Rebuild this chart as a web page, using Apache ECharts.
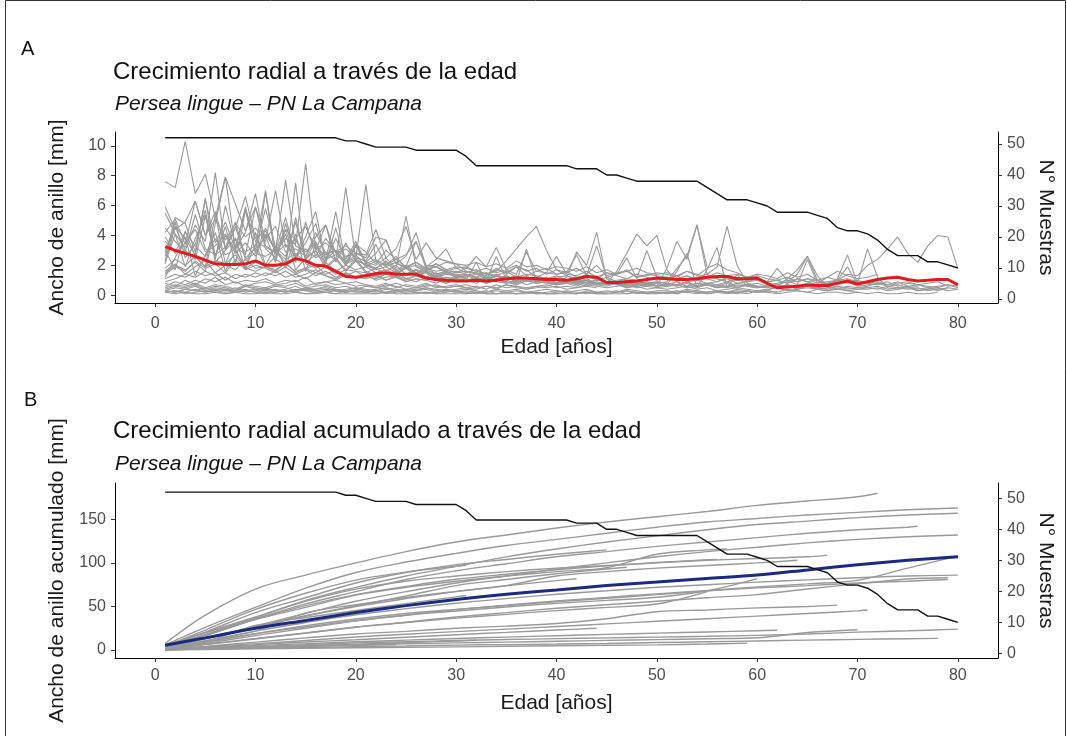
<!DOCTYPE html>
<html lang="es">
<head>
    <meta charset="UTF-8">
    <title>Crecimiento radial - Persea lingue</title>
    <script src="https://cdn.jsdelivr.net/npm/echarts@6/dist/echarts.min.js"></script>
    <style>
        html, body { margin: 0; padding: 0; background: #fff; }
        #main { width: 1067px; height: 736px; }
    </style>
</head>
<body>
<div id="main"></div>

<script type="text/javascript">
    // ticks
    var ticksEdad = [0, 10, 20, 30, 40, 50, 60, 70, 80];
    var ticksAncho = [0, 2, 4, 6, 8, 10];
    var ticksAcum = [0, 50, 100, 150];
    var ticksMuestras = [0, 10, 20, 30, 40, 50];

    // N° de muestras por edad (1..80)
    var muestras = [52,52,52,52,52,52,52,52,52,52, 52,52,52,52,52,52,52,52,51,51,
        50,49,49,49,49,48,48,48,48,48, 46,43,43,43,43,43,43,43,43,43,
        43,42,42,42,40,40,39,38,38,38, 38,38,38,38,36,34,32,32,32,31,
        30,28,28,28,28,27,26,23,22,22, 21,19,16,14,14,14,12,12,11,10];

    // media del ancho de anillo (linea roja), edad 1..80
    var mediaAncho = [3.25,3.0,2.8,2.6,2.35,2.1,2.05,2.05,2.1,2.3, 2.0,2.0,2.1,2.45,2.3,2.0,1.95,1.6,1.25,1.2,
        1.3,1.45,1.5,1.4,1.4,1.4,1.15,1.05,1.0,0.95, 0.95,1.0,0.95,1.0,1.1,1.15,1.15,1.1,1.05,1.05,
        1.0,1.1,1.25,1.2,0.85,0.85,0.9,0.95,1.05,1.15, 1.1,1.05,1.05,1.1,1.2,1.25,1.25,1.1,1.1,1.15,
        0.8,0.5,0.55,0.6,0.7,0.65,0.65,0.8,0.95,0.75, 0.9,1.05,1.15,1.2,1.05,0.95,1.0,1.05,1.05,0.7];

    // edades usadas para el acumulado (mas la edad final de cada muestra)
    var edadesAcum = [1, 5, 10, 15, 20, 25, 30, 35, 40, 45, 50, 55, 60, 65, 70, 75, 80];
    // media del acumulado (linea azul)
    var mediaAcum = [5.5, 14, 25, 34, 43, 51, 58, 64, 69, 74, 78, 82, 86, 92, 98, 103, 107];

    // ancho de anillo por muestra (mm), desde edad 1
    var m01 = [7.6,7.2,10.3,6.8,8.1,5.2,7.9,6.1,4.3,5.9, 3.8,4.6,2.9,3.1,2.6,4.2,2.8,3.0,2.2,3.4,
        2.9,2.1,3.0,2.4,2.7,3.6,2.0,1.9,2.2,2.1, 1.6,1.5,1.3,1.8,1.4,1.9,1.7,1.2,1.5,1.4,
        1.6,1.2,1.3,1.1,1.5,1.4,1.7,1.2,1.3,1.5, 1.4,1.2,1.6,1.3,1.8,2.1,1.7,1.5,1.2,1.4,
        1.3,1.1,1.5,1.2,1.4,1.0,1.2,1.6,1.3,1.1,1.2,1.4];
    var m02 = [5.9,4.4,4.9,6.3,4.0,5.1,3.7,4.8,3.9,4.5, 3.6,7.0,3.2,3.8,4.6,3.1,3.5,2.9,3.3,2.8,
        2.5,3.9,3.7,2.1,2.6,4.2,1.9,2.4,3.1,1.8, 1.9,1.6,1.8,1.5,1.7,2.0,1.6,1.8,1.4,1.7,
        1.5,1.8,1.4,2.0,1.3,1.5,1.6,1.2,1.4,1.3, 1.2,1.1,1.3,1.0,1.2,1.1,0.9,1.0,1.2,1.0,
        0.9,1.8,1.0,0.7,2.4,0.8,0.9,1.0,1.9,0.7, 0.6,0.8,0.7,0.9,0.6,0.7,0.5,0.6,0.7,0.5];
    var m03 = [3.9,2.8,3.5,4.4,2.9,3.3,4.1,3.0,5.8,3.6, 3.2,2.9,3.8,3.4,8.8,3.1,2.7,3.0,2.6,2.8,
        2.7,4.4,2.5,3.1,4.6,2.4,3.5,2.5,2.3,2.1, 2.0,2.2,1.9,2.1,1.8,2.3,1.9,2.0,1.7,1.9,
        1.8,1.6,1.9,1.5,1.7,1.4,1.6,1.8,1.5,1.4, 1.5,1.3,1.6,1.4,1.2,1.5,1.3,1.4,1.2,1.3,
        1.1,1.0,1.2,0.9,1.1,1.0,0.8,1.0,1.1,0.9, 0.8,0.7,0.9,0.6,0.8,0.7,0.6,0.5,0.7,0.6];
    var m04 = [4.5,3.6,2.9,5.4,3.1,2.7,4.0,2.8,3.5,2.6, 4.1,3.0,7.7,3.3,2.9,3.5,2.4,2.7,2.2,2.5,
        7.4,2.3,2.0,2.4,1.9,2.2,1.8,2.1,1.7,1.9, 1.8,2.6,1.9,3.2,1.7,1.4,2.9,1.6,1.5,2.6,
        1.4,1.3,1.6,1.2,1.5,1.3,1.1,1.4,1.2,1.0, 1.2,1.1,1.3,1.0,1.1,0.9,1.2,1.0,0.9,1.1,
        0.9,1.0,0.8,1.1,0.9,0.7,0.8,1.0,0.9,0.6, 0.7,0.8,0.6,0.7,0.5,0.6];
    var m05 = [2.2,4.1,1.9,3.8,5.4,2.6,4.6,2.1,5.7,2.9, 4.0,2.2,4.8,2.5,3.9,5.6,2.3,3.8,2.4,3.6,
        2.2,2.0,2.5,1.8,5.3,1.9,1.6,2.1,1.7,1.5, 1.8,1.6,1.4,1.7,1.5,1.9,1.3,1.6,1.8,1.4,
        1.5,2.7,1.3,3.3,1.2,1.4,2.5,1.1,3.0,1.2, 1.1,1.3,1.0,1.2,1.4,1.1,0.9,1.2,1.0,1.1,
        0.9,1.0,0.8,1.1,0.9,1.0,0.7,0.9,0.8,1.0, 0.8,0.9,0.7,0.8,0.9,0.7,0.8,0.9,0.6,0.7];
    var m06 = [1.6,2.1,1.4,1.9,2.3,1.5,2.0,1.7,2.4,1.8, 1.9,1.6,2.2,1.5,1.8,2.0,1.4,1.7,1.3,1.6,
        1.2,1.4,1.0,1.3,1.1,0.9,1.2,1.0,0.8,1.1, 0.9,1.0,0.8,1.1,0.9,0.7,1.0,0.8,0.9,0.7,
        0.8,0.9,1.0,0.7,0.8,0.9,0.6,0.8,0.7,0.9, 0.8,0.7,0.9,1.0,0.8,0.9,1.1,0.8,0.9,1.0,
        0.7,0.8,1.0,0.9,1.1,0.8,1.2,1.0,1.4,1.3, 2.0,2.4,3.1,3.9,2.8,2.2,3.3,4.0,3.9,1.8];
    var m07 = [3.0,1.7,4.3,2.6,1.9,5.4,2.1,3.8,1.8,4.2, 2.0,3.3,1.8,4.1,1.6,3.4,1.9,2.5,1.7,2.4,
        1.6,1.3,1.5,1.2,1.4,1.7,1.1,1.3,1.0,1.2, 1.1,0.9,1.2,1.0,1.3,0.8,1.1,1.0,0.9,1.0,
        0.9,0.8,1.0,0.7,0.9,0.8,0.7,0.9,0.8,0.6, 0.7,1.6,2.8,0.5,1.7,3.2,0.5,1.4,0.6,0.5,
        0.6,0.5,0.7,0.4,0.6,0.5,0.4,0.6,0.5,0.4, 0.5,0.6,0.4,0.5,0.6,0.4,0.5,0.3,0.5,0.4];
    var m08 = [1.2,2.5,3.9,1.3,2.7,4.2,1.6,3.0,1.8,3.4, 1.9,2.6,4.1,1.7,2.5,3.0,1.8,2.4,1.6,2.3,
        1.5,1.2,1.4,1.6,1.1,1.3,1.5,1.0,1.2,1.1, 1.0,2.2,0.9,2.6,1.0,0.8,3.1,0.9,1.2,0.8,
        0.9,0.7,1.0,0.8,0.9,0.7,0.8,0.9,0.6,0.8, 0.7,0.9,0.6,0.8,0.7,0.6,0.8,0.5,0.7,0.6,
        0.6,0.7,0.5,0.6,0.7,0.5,0.6,0.4,0.6,0.5, 0.5,0.4,0.6,0.5,0.4,0.5,0.3,0.4,0.5];
    var m09 = [0.9,1.1,1.4,1.2,1.6,1.3,1.5,1.1,1.4,1.2, 1.5,1.3,1.6,1.2,1.4,1.7,1.3,1.1,1.5,1.2,
        1.3,1.1,1.4,1.2,1.0,1.3,1.1,1.2,0.9,1.1, 1.0,1.2,0.9,1.1,0.8,1.0,1.1,0.9,1.0,0.8,
        0.9,0.8,1.0,0.7,0.9,0.8,0.7,0.9,0.8,0.6, 0.8,0.7,0.9,0.6,0.8,0.7,0.9,0.6,0.7,0.8,
        0.6,0.7,0.9,1.4,2.6,1.0,0.5,1.1,2.7,0.8, 3.1,1.2,0.5,0.4,0.5,0.3,0.4,0.5,0.3];
    var m10 = [5.5,4.1,3.2,4.7,3.6,8.2,3.0,3.8,2.9,3.3, 7.0,2.8,3.4,2.6,3.1,2.5,2.9,2.3,7.2,2.4,
        2.0,1.8,2.2,1.6,1.9,1.5,1.7,1.4,1.6,1.3, 1.4,1.2,1.0,1.3,1.1,1.0,1.2,0.9,1.1,1.0,
        0.9,1.0,0.8,0.7,0.9,0.8,1.0,0.7,0.8,0.6, 0.7,0.6,0.8,0.5,0.7,0.6,0.5,0.7,0.6,0.5,
        0.6,0.5,0.7,0.4,0.6,0.5,0.4];
    var m11 = [2.1,4.6,3.0,2.4,5.3,2.7,3.2,4.9,2.5,3.1, 5.8,3.2,2.6,4.9,2.4,3.0,4.7,2.2,3.5,2.3,
        2.1,2.4,1.9,2.2,1.8,2.0,1.7,1.9,1.6,1.8, 1.5,1.7,1.4,1.6,2.3,3.1,3.9,4.6,3.0,1.7,
        1.3,1.1,1.4,1.0,1.2,0.9,1.1,1.0,0.8,0.9, 0.8,0.7,0.9,0.6,0.8,0.7,0.6,0.8,0.7,0.5,
        0.6,0.5,0.7,0.6];
    var m12 = [0.6,0.9,0.7,1.0,0.8,1.2,0.7,0.9,0.6,0.8, 0.9,0.7,0.8,1.0,0.6,0.8,0.9,0.7,0.8,0.6,
        0.7,0.5,0.6,0.8,0.6,0.5,0.7,0.6,0.5,0.6, 0.7,0.5,0.6,0.4,0.7,0.6,0.5,0.6,0.7,0.5,
        0.6,0.5,0.7,0.6,0.5,0.6,0.7,0.5,0.6,0.5, 0.6,0.7,0.5,0.6,0.7,0.5,0.6,0.5,0.7,0.6,
        0.5,0.7,0.6,0.5,0.6,0.4,0.5,0.6,0.4,0.5,0.6];
    var m13 = [0.8,0.6,1.0,0.7,1.1,0.9,1.2,0.8,1.0,0.9, 1.1,0.8,1.0,0.9,1.2,0.7,0.9,1.0,0.8,0.9,
        0.7,0.6,0.8,0.5,0.7,0.6,0.8,0.5,0.6,0.7, 0.5,0.6,0.4,0.7,0.5,0.6,0.4,0.5,0.6,0.8,
        1.2,2.9,2.0,4.2,1.1,0.7,0.5,0.6,0.4,0.5, 0.4,0.5,0.6,0.4,0.5,0.3,0.4,0.5,0.4,0.3,
        0.4,0.5,0.3,0.4,0.5,0.4,0.3,0.4];
    var m14 = [0.3,0.5,0.4,0.6,0.3,0.5,0.4,0.3,0.6,0.4, 0.5,0.3,0.4,0.6,0.3,0.4,0.5,0.3,0.4,0.5,
        0.3,0.2,0.4,0.3,0.2,0.3,0.4,0.2,0.3,0.2, 0.3,0.2,0.3,0.1,0.2,0.3,0.2,0.1,0.2,0.3,
        0.2,0.1,0.3,0.2,0.1,0.2,0.3,0.2,0.1,0.2, 0.2,0.1,0.3,0.2,0.1,0.2,0.1,0.2,0.3,0.2,
        0.3,0.2,0.4,0.3,0.2,0.4,0.3,0.5,0.3,0.4, 0.4,0.5,0.3,0.4,0.6,0.3,0.4,0.5,0.3,0.4];
    var m15 = [0.2,0.3,0.1,0.2,0.3,0.2,0.1,0.2,0.3,0.2, 0.1,0.2,0.3,0.2,0.1,0.2,0.2,0.1,0.3,0.2,
        0.2,0.1,0.2,0.3,0.1,0.2,0.2,0.1,0.2,0.3, 0.1,0.2,0.1,0.1,0.2,0.1,0.1,0.2,0.1,0.1,
        0.2,0.1,0.2,0.1,0.1,0.2,0.3,0.1,0.2,0.2, 0.1,0.2,0.2,0.3,0.1,0.2,0.2,0.1,0.3,0.2,
        0.2,0.1,0.2,0.3,0.2,0.1,0.2,0.2,0.1,0.2, 0.1,0.2,0.1,0.1,0.2,0.1,0.1,0.2];
    var m16 = [0.3,0.2,0.4,0.3,0.2,0.4,0.3,0.5,0.2,0.3, 0.4,0.3,0.2,0.4,0.3,0.2,0.3,0.4,0.2,0.3,
        0.2,0.3,0.1,0.2,0.3,0.2,0.1,0.2,0.3,0.2, 0.2,0.1,0.2,0.3,0.2,0.1,0.2,0.2,0.1,0.2,
        0.3,0.2,0.1,0.2,0.2,0.3,0.1,0.2,0.2,0.1, 0.2,0.3,0.2,0.1,0.2,0.3,0.2,0.2,0.1,0.3,
        0.3,0.6,1.1,1.7,2.6,1.3,0.6,0.4,0.3,0.2];
    var m17 = [0.2,0.1,0.2,0.1,0.1,0.2,0.1,0.2,0.1,0.1, 0.2,0.1,0.1,0.2,0.1,0.1,0.2,0.1,0.1,0.1,
        0.1,0.1,0.2,0.1,0.1,0.1,0.2,0.1,0.1,0.1, 0.1,0.2,0.1,0.1,0.1,0.1,0.2,0.1,0.1,0.1,
        0.1,0.1,0.2,0.1,0.1,0.1,0.1,0.2,0.1,0.1, 0.2,0.1,0.3,0.2,0.2,0.3,0.2,0.3,0.2];
    var m18 = [1.4,1.9,1.6,2.3,1.8,2.1,1.5,2.4,1.7,2.0, 1.8,1.5,1.9,1.4,1.7,1.3,1.6,1.2,1.5,1.1,
        1.4,1.0,1.2,1.3,0.9,1.1,1.0,1.2,0.8,1.0, 0.9,1.1,0.8,1.0,0.9,0.7,1.0,0.8,0.9,0.7,
        0.8,0.6,0.9,0.7,0.6,0.8,0.5,0.7,0.6,0.8, 0.9,1.8,2.6,4.7,1.4,1.9,4.6,2.0,0.8,0.6];
    var m19 = [3.6,2.9,4.2,3.3,2.6,3.8,2.7,3.1,5.9,2.8, 2.6,3.0,2.4,2.8,2.2,2.7,2.3,5.6,2.1,2.4,
        2.0,1.7,1.9,1.5,1.8,1.4,1.6,1.3,1.5,1.2, 1.3,1.1,1.2,1.0,1.3,0.9,1.1,1.0,1.2,0.8,
        1.0,0.9,0.7,1.1,0.8,1.6,2.8,4.1,3.3,4.0, 1.7,0.9,0.6,0.8,0.7,0.5,0.6];
    var m20 = [1.1,1.4,1.2,1.6,1.3,1.5,1.0,1.4,1.2,1.5, 1.3,1.6,1.2,1.4,1.1,1.5,1.3,1.0,1.4,1.2,
        1.1,1.3,1.0,1.2,0.9,1.1,1.0,0.8,1.1,0.9, 1.0,0.8,1.1,0.9,0.8,1.0,0.7,0.9,0.8,0.7,
        0.9,0.8,0.6,0.9,0.7,0.8,0.6,0.7,0.9,0.6, 1.8,3.6,2.4,4.7,1.9];
    var m21 = [2.3,4.9,2.5,3.4,5.7,2.2,3.0,4.6,2.4,2.8, 4.5,2.9,2.2,5.2,2.4,3.6,2.1,4.5,2.0,3.3,
        2.2,2.8,3.7,2.1,1.9,3.6,1.8,1.6,1.7,1.5, 1.6,1.4,1.5,1.3,1.6,1.2,1.4,1.3,1.1,1.2,
        1.3,1.0,1.2,1.1,0.9,1.0,1.1];
    var m22 = [0.5,0.7,0.6,0.8,0.5,0.7,0.6,0.4,0.7,0.6, 0.5,0.7,0.6,0.8,0.5,0.6,0.7,0.5,0.6,0.4,
        0.6,0.5,0.7,0.6,0.4,0.5,0.6,0.7,0.5,0.6, 0.5,0.4,0.6,0.5,0.7,0.5,0.4,0.6,0.5,0.6,
        0.4,0.5,0.6,0.5];
    var m23 = [1.8,2.4,2.0,2.6,1.9,2.3,2.1,2.7,1.8,2.2, 6.9,2.4,2.0,7.5,2.1,1.8,2.2,1.6,2.0,1.7,
        1.9,1.5,1.7,1.4,1.8,1.3,1.6,1.2,1.5,1.4, 1.3,1.5,1.2,1.4,1.1,1.3,1.0,1.2,1.1,1.3,
        1.0,1.2];
    var m24 = [0.3,0.2,0.4,0.3,0.5,0.3,0.4,0.2,0.3,0.4, 0.3,0.4,0.2,0.3,0.5,0.3,0.4,0.3,0.2,0.4,
        0.3,0.4,0.5,0.3,0.4,0.3,0.5,0.4,0.3,0.4,0.5,0.3];
    var m25 = [1.5,2.0,1.7,2.2,1.6,4.8,7.9,3.1,1.8,1.6, 1.9,1.7,2.1,1.6,1.8,1.5,1.9,1.4,1.7,1.6,
        1.5,1.8,1.4,1.6,1.3,1.7,1.5,1.2,1.4,1.3,1.2];
    var m26 = [0.2,0.3,0.2,0.4,0.2,0.3,0.2,0.3,0.4,0.2, 0.3,0.2,0.3,0.2,0.4,0.3,0.2,0.3,0.2,0.3,
        0.2,0.3,0.2,0.3];
    var m27 = [4.2,5.1,3.4,6.3,4.0,5.6,3.1,4.5,6.6,3.8, 4.3,3.0,5.2,2.6,3.5,4.8,2.4,3.0,2.2,2.7,
        1.9,2.3,1.6,2.0,1.4,1.7,1.2,1.5,1.0,1.3,1.1];
    var m28 = [3.0,4.6,3.8,2.7,6.4,3.5,4.9,3.1,4.2,6.8, 3.3,2.9,4.4,3.7,2.6,3.9,4.7,2.8,3.1,2.5,
        2.3,3.4,2.0,2.6,1.8,2.2,1.7,1.9,1.5,1.6, 1.4,1.2,1.5,1.1,1.3,1.0,1.2,0.9,1.1,1.0,
        0.9,1.1,0.8,1.0,0.9];
    var m29 = [2.6,5.2,4.8,2.9,6.5,2.4,6.0,3.3,2.7,5.9, 3.1,2.5,4.4,2.2,4.9,2.6,3.8,2.9,2.0,3.4,
        2.1,1.8,2.3,1.7,2.0,1.5,1.9,1.4,1.6,1.3, 1.2,1.4,1.1,1.3,1.0,1.2,0.9,1.1,1.0,0.8,
        1.0,0.9,1.1,0.8,0.7,0.9,0.8,0.6,0.7,0.8, 0.6,0.7,0.5,0.6,0.7,0.5];
    var m30 = [0.4,0.6,0.5,0.7,0.4,0.6,0.5,0.3,0.6,0.5, 0.4,0.6,0.5,0.3,0.5,0.4,0.6,0.4,0.3,0.5,
        0.4,0.3,0.5,0.4,0.3,0.4,0.5,0.3,0.4,0.3, 0.4,0.3,0.2,0.4,0.3,0.4,0.2,0.3,0.4,0.3,
        0.2,0.3,0.4,0.2,0.3,0.2,0.4,0.3,0.2,0.3, 0.3,0.2,0.4,0.3,0.2,0.3,0.2,0.4,0.3,0.2,0.3,0.2];

    // ancho acumulado por muestra (mm) en edadesAcum, mas la edad final
    var a01 = [7.6,40,70,86,100,113,124,132,140,147,153,159,166,171,176,180];
    var a02 = [5.9,26,49,71,89,101,111,120,127,134,141,147,151,155,158,161,163];
    var a03 = [3.9,18,37,57,72,85,96,107,116,124,131,138,144,148,152,155,157];
    var a04 = [4.5,20,36,53,67,81,91,99,107,113,119,124,129,134,138,141,142];
    var a05 = [2.2,13,27.5,42,56,67,77,85,93,100,107,113,118,123,127,130,132];
    var a06 = [1.6,9.3,18.7,28,35.7,42,46.7,51,55.5,59.5,63.6,68,72.5,76,80,94,108];
    var a07 = [2,10.5,21.8,31.5,40.5,47.5,53.8,59,64,68,72,75,78,80.5,83,85,86];
    var a08 = [1.2,7.6,16.6,25,33.5,40,46.4,51.5,56.4,60.5,64.5,68,71.4,74,77,79,81];
    var a09 = [0.9,6.2,12.7,19.5,26.5,32,38,43,48,52,56,60,63.6,70,76,81.6,83];
    var a10 = [5.5,20,38,56,70,79,85,90,94,97,100,103,105,107,109];
    var a11 = [2.1,13,26,39,50,59,67,74,85,90,94,97,100,103];
    var a12 = [0.6,4,7.2,11,15,18.2,21.2,24,27,30,33,36,39,42,45,46];
    var a13 = [0.8,4.2,9.1,14,18.4,21.5,25,27.5,30.5,36,44,46,48.4,50,51.6];
    var a14 = [0.3,2.1,4.1,6.2,8.2,9.6,11,12.1,13.1,14,14.9,15.8,16.9,18.4,20.6,22.1,24];
    var a15 = [0.2,1.1,2.0,2.9,3.8,4.7,5.7,6.3,6.9,7.7,8.6,9.5,10.4,11.4,12.3,13.0,13.4];
    var a16 = [0.3,1.4,2.9,4.5,6.0,7.2,8.2,9.1,10.1,11.1,12.0,13.0,14.1,20.2,23.4];
    var a17 = [0.2,0.7,1.4,2.0,2.6,3.1,3.7,4.3,4.9,5.5,6.0,6.9,8.0];
    var a18 = [1.4,9,18.7,26.5,33.7,40,44.8,49.5,53.6,57,60.6,68,82];
    var a19 = [3.6,16.6,34.9,49,63,72,79,85,90,94.5,110,115,116];
    var a20 = [1.1,6.6,13.2,19.6,26.2,31.6,36.6,41,45.3,49,52.8,67];
    var a21 = [2.3,13.8,26.8,39.5,51,62,74,81,87.5,93,95];
    var a22 = [0.5,3.1,6.3,9.2,11.9,14.7,17.6,20.3,23,25];
    var a23 = [1.8,10.7,21.8,42.7,52,60.3,67.3,73.8,79.7,81.9];
    var a24 = [0.3,1.7,3.3,5.0,6.7,8.4,10.4,11.2];
    var a25 = [1.5,9.6,28.2,37.3,45.4,53.3,61.1,62.3];
    var a26 = [0.2,1.3,2.7,4.1,5.4,6.4];
    var a27 = [4.2,23,46.6,65.2,80.3,89.5,96.2,97.3];
    var a28 = [3,20.5,43,60,77,89,98,104,110,115];
    var a29 = [2.6,17,35.3,51,63.6,73,81.2,87,92.2,96.6,100.5,103.6,104.1];
    var a30 = [0.4,2.6,5.1,7.3,9.5,11.4,13.3,14.9,16.5,18,19.4,20.8,22.2,22.7];

    var anchos = [m01,m02,m03,m04,m05,m06,m07,m08,m09,m10,m11,m12,m13,m14,m15,
        m16,m17,m18,m19,m20,m21,m22,m23,m24,m25,m26,m27,m28,m29,m30];
    var acumulados = [a01,a02,a03,a04,a05,a06,a07,a08,a09,a10,a11,a12,a13,a14,a15,
        a16,a17,a18,a19,a20,a21,a22,a23,a24,a25,a26,a27,a28,a29,a30];

    var FUENTE = '"Liberation Sans", Arial, Helvetica, sans-serif';
    var GRIS = '#999999';

    function porEdad(arr) {
        return arr.map(function (v, i) { return [i + 1, v]; });
    }

    function porEdadAcum(arr, fin) {
        var edades = edadesAcum.filter(function (e) { return e < fin; });
        edades.push(fin);
        return arr.map(function (v, i) { return [edades[i], v]; });
    }

    function ejeX(grid, margen, gap) {
        return {
            type: 'value', gridIndex: grid, min: -4, max: 84,
            name: 'Edad [años]', nameLocation: 'middle', nameGap: gap,
            nameTextStyle: {fontFamily: FUENTE, fontSize: 21, color: '#1a1a1a'},
            axisLine: {show: true, onZero: false, lineStyle: {color: '#000', width: 1}},
            axisTick: {show: true, length: 4, customValues: ticksEdad, lineStyle: {color: '#333'}},
            axisLabel: {customValues: ticksEdad, fontFamily: FUENTE, fontSize: 16, color: '#4d4d4d', margin: margen},
            splitLine: {show: false}
        };
    }

    function ejeY(grid, pos, min, max, ticks, nombre, gap, rot) {
        return {
            type: 'value', gridIndex: grid, position: pos, min: min, max: max,
            name: nombre, nameLocation: 'middle', nameGap: gap, nameRotate: rot,
            nameTextStyle: {fontFamily: FUENTE, fontSize: 21, color: '#1a1a1a'},
            axisLine: {show: true, onZero: false, lineStyle: {color: '#000', width: 1}},
            axisTick: {show: true, length: 4, customValues: ticks, lineStyle: {color: '#333'}},
            axisLabel: {customValues: ticks, fontFamily: FUENTE, fontSize: 16, color: '#4d4d4d', margin: 9},
            splitLine: {show: false}
        };
    }

    function linea(xi, yi, data, color, ancho, z, suave) {
        return {
            type: 'line', xAxisIndex: xi, yAxisIndex: yi, data: data,
            symbol: 'none', silent: true, z: z, smooth: suave || false,
            lineStyle: {color: color, width: ancho}
        };
    }

    var series = [];
    anchos.forEach(function (arr) {
        series.push(linea(0, 0, porEdad(arr), GRIS, 1.1, 2));
    });
    series.push(linea(0, 0, porEdad(mediaAncho), '#e3191c', 3, 4));
    series.push(linea(0, 1, porEdad(muestras), '#111', 1.4, 5));

    acumulados.forEach(function (arr, i) {
        series.push(linea(1, 2, porEdadAcum(arr, anchos[i].length), GRIS, 1.4, 2, 0.35));
    });
    series.push(linea(1, 2, porEdadAcum(mediaAcum, 80), '#1b2a7f', 3, 4, 0.3));
    series.push(linea(1, 3, porEdad(muestras), '#111', 1.4, 5));

    function texto(x, y, txt, size, estilo) {
        return {
            type: 'text', x: x, y: y, silent: true,
            style: {
                text: txt, fill: '#111', verticalAlign: 'middle', align: 'left',
                font: (estilo || 'normal') + ' ' + size + 'px ' + FUENTE
            }
        };
    }

    var chart = echarts.init(document.getElementById('main'));
    chart.setOption({
        animation: false,
        backgroundColor: '#fff',
        grid: [
            {left: 115, right: 69, top: 132, height: 171},
            {left: 115, right: 69, top: 483, height: 175}
        ],
        xAxis: [ejeX(0, 13, 34), ejeX(1, 10, 35)],
        yAxis: [
            ejeY(0, 'left', -0.52, 10.92, ticksAncho, 'Ancho de anillo [mm]', 47, 90),
            ejeY(0, 'right', -1.29, 53.87, ticksMuestras, 'N° Muestras', 36, -90),
            ejeY(1, 'left', -9.1, 191.7, ticksAcum, 'Ancho de anillo acumulado [mm]', 47, 90),
            ejeY(1, 'right', -1.51, 54.94, ticksMuestras, 'N° Muestras', 36, -90)
        ],
        series: series,
        graphic: [
            {type: 'rect', silent: true, shape: {x: 5.5, y: 0.5, width: 1060, height: 800},
                style: {fill: 'none', stroke: '#333', lineWidth: 1}},
            texto(21, 49, 'A', 20),
            texto(113, 72, 'Crecimiento radial a través de la edad', 24),
            texto(115, 104, 'Persea lingue – PN La Campana', 21, 'italic'),
            texto(24, 400, 'B', 20),
            texto(113, 431, 'Crecimiento radial acumulado a través de la edad', 24),
            texto(115, 464, 'Persea lingue – PN La Campana', 21, 'italic')
        ]
    });
</script>

</body>
</html>
